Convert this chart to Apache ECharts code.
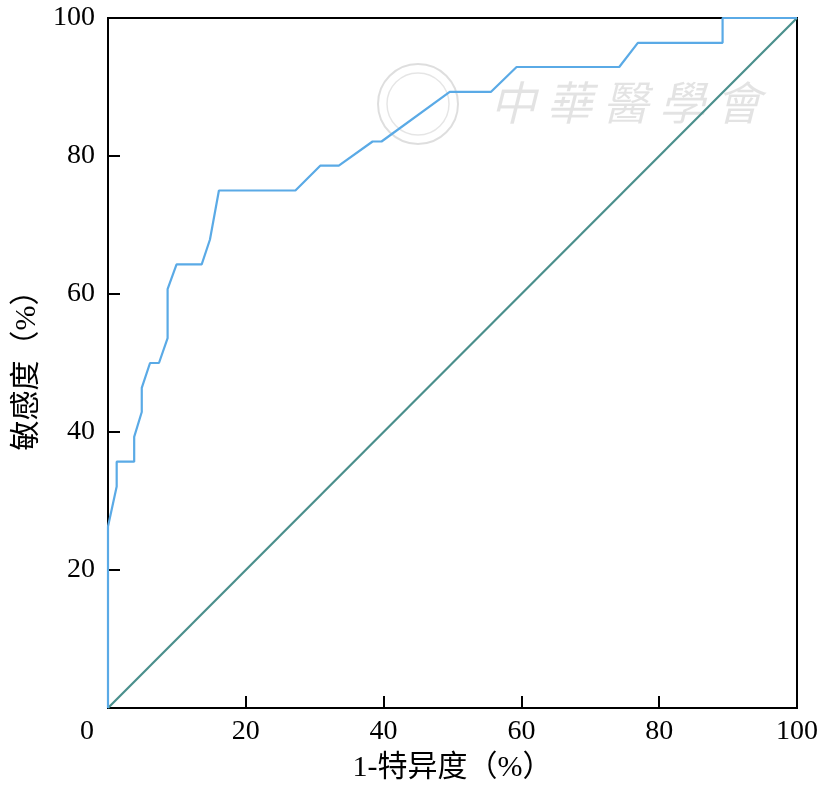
<!DOCTYPE html>
<html>
<head>
<meta charset="utf-8">
<script src="https://cdn.jsdelivr.net/npm/echarts@6/dist/echarts.min.js"></script>
<style>
html,body{margin:0;padding:0;background:#fff;}
#c{width:827px;height:790px;}
</style>
</head>
<body>
<div id="c"></div>
<script>
const rocX = [0, 0, 1.26, 1.26, 3.8, 3.8, 4.9, 4.9, 6.1, 7.4, 8.65, 8.65, 9.95, 13.6, 14.8, 16.1, 27.2, 30.8, 33.5, 38.4, 39.7, 49.6, 55.6, 59.3, 74.2, 76.9, 89.2, 89.2, 100];
const rocY = [0, 26.3, 32.1, 35.7, 35.7, 39.3, 42.9, 46.4, 50, 50, 53.6, 60.7, 64.3, 64.3, 67.9, 75, 75, 78.6, 78.6, 82.1, 82.1, 89.3, 89.3, 92.9, 92.9, 96.4, 96.4, 100, 100];
const refX = [0, 100];
const refY = [0, 100];
const xTitle = '1-特异度（%）';
const yTitle = '敏感度（%）';
const watermark = '中 華 醫 學 會';

const serif = '"Liberation Serif", "Noto Sans CJK SC", serif';
const chart = echarts.init(document.getElementById('c'));
const axisCommon = {
  type: 'value', min: 0, max: 100, interval: 20,
  axisLine: { show: true, lineStyle: { color: '#000', width: 2 } },
  axisTick: { show: true, inside: true, length: 12, lineStyle: { color: '#000', width: 2 } },
  splitLine: { show: false },
  nameLocation: 'middle',
  nameTextStyle: { fontFamily: serif, fontSize: 30, color: '#000' }
};
chart.setOption({
  animation: false,
  backgroundColor: '#fff',
  grid: { left: 108, right: 30, top: 18, bottom: 82, show: true, borderColor: '#000', borderWidth: 2 },
  xAxis: Object.assign({}, axisCommon, {
    name: xTitle, nameGap: 45,
    axisLabel: {
      fontFamily: serif, fontSize: 28, color: '#000', margin: 10,
      formatter: v => v === 0 ? '{z|0}' : String(v),
      rich: { z: { fontFamily: serif, fontSize: 28, color: '#000', padding: [0, 42, 0, 0] } }
    }
  }),
  yAxis: Object.assign({}, axisCommon, {
    name: yTitle, nameGap: 60,
    axisLabel: {
      fontFamily: serif, fontSize: 28, color: '#000', margin: 13,
      formatter: v => v === 0 ? '' : String(v)
    }
  }),
  graphic: [
    {
      type: 'circle', silent: true, z: 0,
      shape: { cx: 418, cy: 104, r: 40 },
      style: { fill: 'none', stroke: 'rgba(0,0,0,0.13)', lineWidth: 2 }
    },
    {
      type: 'circle', silent: true, z: 0,
      shape: { cx: 418, cy: 104, r: 31 },
      style: { fill: 'none', stroke: 'rgba(0,0,0,0.10)', lineWidth: 1.5 }
    },
    {
      type: 'text', left: 490, top: 80, silent: true, z: 0,
      style: { text: watermark, fontSize: 46, fontStyle: 'italic', fill: 'rgba(0,0,0,0.11)', fontFamily: '"Noto Sans CJK TC", sans-serif' }
    }
  ],
  series: [
    {
      type: 'line', showSymbol: false, symbol: 'none',
      data: rocX.map((x, i) => [x, rocY[i]]),
      lineStyle: { color: '#5aaae6', width: 2.2 }, z: 3
    },
    {
      type: 'line', showSymbol: false, symbol: 'none',
      data: refX.map((x, i) => [x, refY[i]]),
      lineStyle: { color: '#4a8f8c', width: 2.2 }, z: 2
    }
  ]
});
</script>
</body>
</html>
